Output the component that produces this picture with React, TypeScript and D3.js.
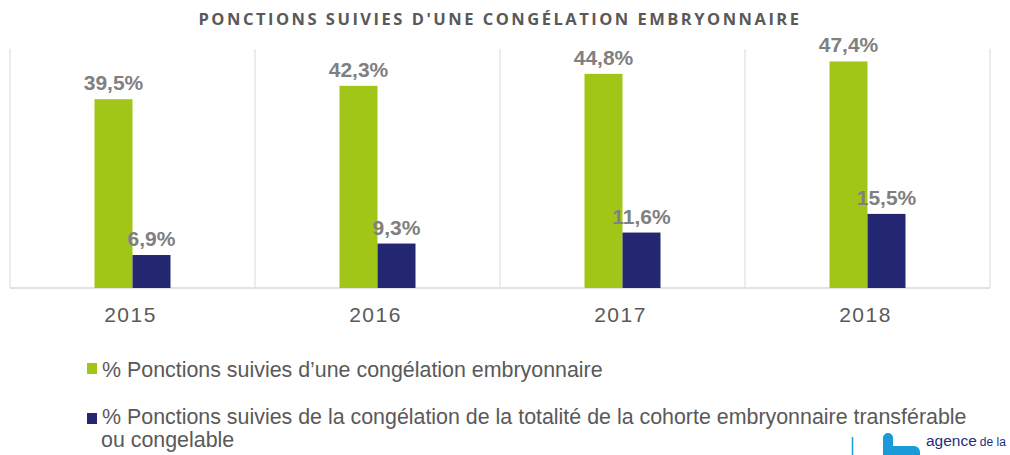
import * as d3 from "d3";
import { useEffect, useRef } from "react";

const years = ["2015", "2016", "2017", "2018"];
const congelation = [39.5, 42.3, 44.8, 47.4];
const totalite = [6.9, 9.3, 11.6, 15.5];
const seriesNames = [
  "% Ponctions suivies d\u2019une congélation embryonnaire",
  "% Ponctions suivies de la congélation de la totalité de la cohorte embryonnaire transférable",
];
const seriesNameCont = "ou congelable";
const colors = ["#a2c617", "#232671"];

const fmt = (v: number) => v.toFixed(1).replace(".", ",") + "%";

const App = () => {
  const ref = useRef<SVGSVGElement>(null);

  useEffect(() => {
    const svg = d3.select(ref.current);
    svg.selectAll("*").remove();

    const left = 10, right = 990, top = 49, bottom = 288;
    const barW = 38;

    const x = d3.scaleBand().domain(years).range([left, right]).padding(0);
    const y = d3.scaleLinear().domain([0, 50]).range([bottom, top]);

    // title
    svg.append("text")
      .attr("x", 500)
      .attr("y", 25)
      .attr("text-anchor", "middle")
      .attr("font-family", "'Open Sans', sans-serif")
      .attr("font-weight", 700)
      .attr("font-size", 16.5)
      .attr("letter-spacing", 2.5)
      .attr("fill", "#595959")
      .text("PONCTIONS SUIVIES D'UNE CONGÉLATION EMBRYONNAIRE");

    // vertical separators
    const seps = years.map((d) => x(d) as number).concat([right]);
    svg.selectAll(".sep")
      .data(seps)
      .join("line")
      .attr("x1", (d) => d)
      .attr("x2", (d) => d)
      .attr("y1", top)
      .attr("y2", bottom)
      .attr("stroke", "#d9d9d9")
      .attr("stroke-width", 1);

    // baseline
    svg.append("line")
      .attr("x1", left)
      .attr("x2", right)
      .attr("y1", bottom)
      .attr("y2", bottom)
      .attr("stroke", "#d9d9d9")
      .attr("stroke-width", 1.5);

    const series = [congelation, totalite];
    series.forEach((vals, si) => {
      const g = svg.append("g");
      const bx = (i: number) =>
        (x(years[i]) as number) + x.bandwidth() / 2 - barW + si * barW;
      g.selectAll("rect")
        .data(vals)
        .join("rect")
        .attr("x", (_, i) => bx(i))
        .attr("y", (d) => y(d))
        .attr("width", barW)
        .attr("height", (d) => bottom - y(d))
        .attr("fill", colors[si]);
      g.selectAll("text")
        .data(vals)
        .join("text")
        .attr("x", (_, i) => bx(i) + barW / 2)
        .attr("y", (d) => y(d) - 9)
        .attr("text-anchor", "middle")
        .attr("font-family", "'Liberation Sans', Arial, sans-serif")
        .attr("font-weight", 700)
        .attr("font-size", 21)
        .attr("fill", "#808080")
        .text((d) => fmt(d));
    });

    // year labels
    svg.selectAll(".yr")
      .data(years)
      .join("text")
      .attr("x", (d) => (x(d) as number) + x.bandwidth() / 2 - 2)
      .attr("y", 322)
      .attr("text-anchor", "middle")
      .attr("font-family", "'Liberation Sans', Arial, sans-serif")
      .attr("font-size", 21)
      .attr("letter-spacing", 1.5)
      .attr("fill", "#595959")
      .text((d) => d);

    // legend
    const leg = svg.append("g")
      .attr("font-family", "'Liberation Sans', Arial, sans-serif")
      .attr("font-size", 21.4)
      .attr("fill", "#595959");
    const legY = [363, 413];
    const textY = [377, 424];
    seriesNames.forEach((name, i) => {
      leg.append("rect")
        .attr("x", 87)
        .attr("y", legY[i])
        .attr("width", 10)
        .attr("height", 11)
        .attr("fill", colors[i]);
      leg.append("text")
        .attr("x", 102)
        .attr("y", textY[i])
        .text(name);
    });
    leg.append("text").attr("x", 101).attr("y", 447).text(seriesNameCont);

    // logo
    svg.append("line")
      .attr("x1", 852.5).attr("x2", 852.5)
      .attr("y1", 437).attr("y2", 455)
      .attr("stroke", "#1a9ad6").attr("stroke-width", 1.5);
    svg.append("path")
      .attr("d", "M883,438 a5,5 0 0 1 10,0 V446 H914 a6,6 0 0 1 6,6 V455 H883 Z")
      .attr("fill", "#1a9ad6");
    svg.append("text")
      .attr("x", 926).attr("y", 446)
      .attr("font-family", "'Liberation Sans', Arial, sans-serif")
      .attr("fill", "#2a2b7c")
      .attr("font-size", 15.5)
      .text("agence")
      .append("tspan")
      .attr("font-size", 12)
      .attr("dx", 3)
      .text("de la");
  }, []);

  return (
    <svg
      ref={ref}
      width={1010}
      height={455}
      style={{ position: "absolute", left: 0, top: 0, background: "#fff" }}
    />
  );
};

export default App;
